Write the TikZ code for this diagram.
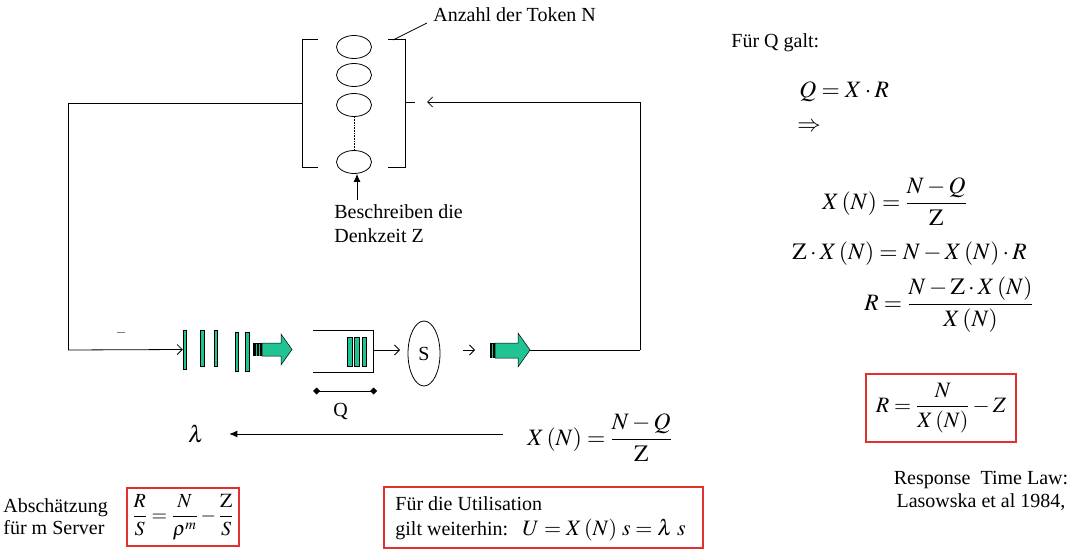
\documentclass[tikz,border=0pt]{standalone}
\usepackage{mathptmx}
\usepackage[no-math]{fontspec}
\setmainfont{Liberation Serif}
\usetikzlibrary{arrows.meta,calc,shapes.geometric}
\definecolor{tgreen}{RGB}{32,196,146}
\definecolor{boxred}{RGB}{226,48,48}
\begin{document}
\begin{tikzpicture}[x=1pt,y=-1pt,line width=0.8pt,
  txt/.style={font=\fontsize{20}{23}\selectfont, inner sep=0pt},
  meq/.style={font=\fontsize{23.5}{27}\selectfont, inner sep=0pt},
  seq/.style={font=\fontsize{22}{26}\selectfont, inner sep=0pt},
  tok/.style={draw, ellipse, minimum width=35pt, minimum height=23pt, inner sep=0pt},
  gbar/.style={draw, fill=tgreen, line width=0.5pt, inner sep=0pt},
  redbox/.style={draw=boxred, line width=1.3pt, inner sep=0pt},
  oarr/.style={-{Straight Barb[length=5pt,width=10pt]}},
  garrow/.style={draw, fill=tgreen, line width=0.5pt},
]
\useasboundingbox (0,0) rectangle (1074,551);

% ---------- think station (tokens) ----------
\node[tok] (e1) at (354,47) {};
\node[tok] (e2) at (354,75) {};
\node[tok] (e3) at (354,105) {};
\node[tok] (e4) at (354,162) {};
\draw[densely dotted, line width=0.6pt] (e3.south) -- (e4.north);
\draw (318,39) -- (302,39) -- (302,167) -- (318,167);
\draw (388,39) -- (405,39) -- (405,167) -- (388,167);

\node[txt, anchor=base west] (anz) at (433,22) {Anzahl der Token N};
\coordinate (anzp) at (393,40);
\draw (anzp) -- ($(anz.base west)+(-6,1)$);

\node[txt, anchor=base west] (besch) at (334,218) {Beschreiben die};
\node[txt, anchor=base west] (denk) at (334,242) {Denkzeit Z};
\coordinate (ab) at (357,200);
\draw[-{Latex[length=8pt,width=7pt]}] (ab) -- (ab |- e4.south);

% ---------- closed loop ----------
\coordinate (lbr) at (302,103);
\coordinate (tl) at (68,103);
\coordinate (bl) at (68,350);
\coordinate (tr) at (640,102);
\coordinate (br) at (640,350);
\coordinate (rbr) at (405,102);
\coordinate (rtick) at (415,102);
\coordinate (rhead) at (427,102);
\draw (lbr) -- (tl) -- (bl);
\draw (rbr) -- (rtick);
\draw[oarr] (br) -- (tr) -- (rhead);

% ---------- arrival bars ----------
\node[gbar, minimum width=3pt, minimum height=39pt] (b1) at (184.5,349.5) {};
\node[gbar, minimum width=3.5pt, minimum height=36pt] (b2) at (202,348) {};
\node[gbar, minimum width=3.5pt, minimum height=36pt] (b3) at (215.5,348) {};
\node[gbar, minimum width=3.5pt, minimum height=39pt] (b4) at (236.5,351.5) {};
\node[gbar, minimum width=3.5pt, minimum height=39pt] (b5) at (247,351.5) {};
\draw[oarr] (bl) -- (b1.west);
\draw[gray, line width=0.6pt] (117,332) -- (125,332);

% green block arrow 1
\draw[garrow] (262,343) -- (281,343) -- (281,334) -- (292,349.5) -- (281,365) -- (281,356) -- (262,356) -- cycle;
\fill[black] (253,343) rectangle (262,356);
\fill[tgreen] (256,343.5) rectangle (257,355.5);
\fill[tgreen] (259,343.5) rectangle (260,355.5);
\coordinate (ga1) at (292,349.5);

% queue box
\coordinate (qtl) at (313,330);
\coordinate (qtr) at (373,330);
\coordinate (qbr) at (373,372);
\coordinate (qbl) at (313,372);
\draw (qtl) -- (qtr) -- (qbr) -- (qbl);
\node[gbar, minimum width=4.5pt, minimum height=29pt] (q1) at (349.5,351.5) {};
\node[gbar, minimum width=4.5pt, minimum height=29pt] (q2) at (356.5,351.5) {};
\node[gbar, minimum width=4.5pt, minimum height=29pt] (q3) at (364,351.5) {};

% server
\node[draw, ellipse, minimum width=32pt, minimum height=65pt, inner sep=0pt, txt] (srv) at (424,353.5) {S};
\coordinate (qout) at (373,350);
\draw[oarr] (qout) -- (400,350);
\coordinate (sa) at (463,350);
\coordinate (sb) at (475,350);
\draw[oarr] (sa) -- (sb);

% green block arrow 2
\draw[garrow] (495,343) -- (518,343) -- (518,333) -- (530,350) -- (518,367) -- (518,358) -- (495,358) -- cycle;
\fill[black] (490,343) rectangle (495,358);
\fill[tgreen] (492,343.5) rectangle (493,357.5);
\coordinate (ga2) at (530,350);
\draw (ga2) -- (br);

% Q dimension
\coordinate (d1) at (313,391);
\coordinate (d2) at (377,391);
\draw[{Diamond[length=7pt,width=7pt]}-{Diamond[length=7pt,width=7pt]}] (d1) -- (d2);
\node[txt, anchor=base west] (qlab) at (333,416) {Q};

% lambda and throughput
\node[meq] (lam) at (196,434) {$\lambda$};
\node[meq, anchor=west] (xm) at (527,438) {$X\,(N) = \displaystyle\frac{N - Q}{\mathrm{Z}}$};
\coordinate (astart) at (503,434);
\draw[-{Latex[length=8pt,width=7pt]}] (astart) -- ($(lam.east)+(25,0)$);

% ---------- right column ----------
\node[txt, anchor=base west] (galt) at (731,48) {Für Q galt:};
\node[meq, anchor=base west] (qxr) at (799,97) {$Q = X\cdot R$};
\node[meq, anchor=west] (impl) at (797,127) {$\Rightarrow$};
\node[meq, anchor=west] (eqa) at (822,202) {$X\,(N) = \displaystyle\frac{N - Q}{\mathrm{Z}}$};
\node[meq, anchor=base west] (eqb) at (792,259) {$\mathrm{Z}\cdot X\,(N) = N - X\,(N)\cdot R$};
\node[meq, anchor=west] (eqc) at (864,305) {$R = \displaystyle\frac{N - \mathrm{Z}\cdot X\,(N)}{X\,(N)}$};
\node[redbox, minimum width=150pt, minimum height=68pt, font=\fontsize{22}{26}\selectfont] (rbox) at (941,408) {$R = \displaystyle\frac{N}{X\,(N)} - Z$};
\node[txt, align=center] (resp) at (981,491) {Response~~Time Law:\\Lasowska et al 1984,};

% ---------- bottom ----------
\node[txt, anchor=base west] (abs1) at (3,512) {Abschätzung};
\node[txt, anchor=base west] (abs2) at (3,534) {für m Server};
\node[redbox, minimum width=112pt, minimum height=58pt, font=\fontsize{20}{24}\selectfont] (sbox) at (183,517) {$\displaystyle\frac{R}{S} = \frac{N}{\rho^{m}} - \frac{\mathrm{Z}}{S}$};

\node[redbox, minimum width=319pt, minimum height=61pt] (ubox) at (543.5,517.5) {};
\node[txt, anchor=base west] (u1) at (395,510) {Für die Utilisation};
\node[txt, anchor=base west] (u2) at (395,535) {gilt weiterhin:};
\node[seq, anchor=base west] (u3) at (522,535) {$U = X\,(N)\;s = \lambda\;s$};
\end{tikzpicture}
\end{document}
